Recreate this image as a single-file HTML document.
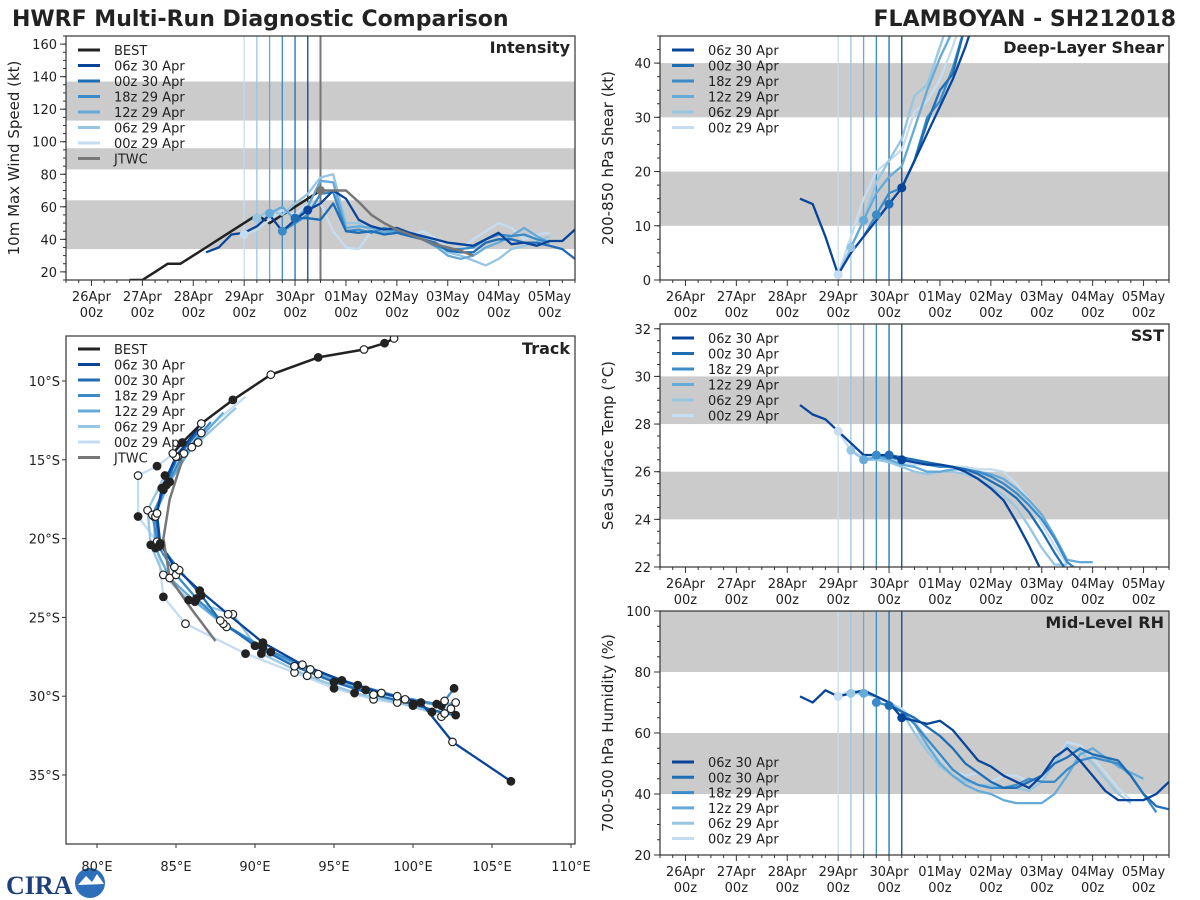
<!DOCTYPE html>
<html><head><meta charset="utf-8">
<style>
html,body{margin:0;padding:0;background:#fff;}
svg{display:block;font-family:"DejaVu Sans","Liberation Sans",sans-serif;}
</style></head>
<body>
<svg id="chart" width="1200" height="900" viewBox="0 0 1200 900" xmlns="http://www.w3.org/2000/svg">
<text x="12" y="26" font-size="22" font-weight="bold" fill="#222">HWRF Multi-Run Diagnostic Comparison</text>
<text x="1176" y="26" font-size="22" font-weight="bold" fill="#222" text-anchor="end">FLAMBOYAN - SH212018</text>
<g>
<text x="6" y="894" font-size="26" font-weight="bold" fill="#1d3f7a" font-family="Liberation Serif, serif">CIRA</text>
<circle cx="90" cy="883" r="15" fill="#2d6fb8"/>
<path d="M78 885 L86 876 L92 882 L97 874 L104 884 Z" fill="#fff"/>
</g>
</svg>
<script>
// ---------- data ----------
const runNames = ["06z 30 Apr","00z 30 Apr","18z 29 Apr","12z 29 Apr","06z 29 Apr","00z 29 Apr"];
const runColors = ["#08459a","#1f6db5","#3a8bc8","#66aad8","#97c6e3","#c6dcf0"];
const initHours = [102,96,90,84,78,72];
const jtwcHour = 108;
const dateLabels = ["26Apr","27Apr","28Apr","29Apr","30Apr","01May","02May","03May","04May","05May"];

// intensity (kt), hour step 6
const bestStart = 18;
const bestWind = [15,15,20,25,25,30,35,40,45,50,55,50,55,60,65,70];
const jtwcStart = 108;
const jtwcWind = [70,70,70,63,55,50,46,43,40,37,35,33,30];
const windStarts = [54,96,90,84,78,72];
const windVals = [
 [32,35,43,44,48,55,45,52,58,62,70,65,52,48,46,47,44,42,40,38,37,36,40,44,37,38,36,39,39,46,37],
 [53,53,52,62,45,44,45,43,44,42,40,38,33,32,32,38,40,40,38,38,36,34,28],
 [45,50,55,68,69,45,46,44,47,45,43,40,36,34,34,35,40,43,42,43,40,38],
 [56,60,52,60,76,75,47,48,47,44,46,44,41,36,30,28,30,35,38,42,47,42,38],
 [53,58,55,62,68,78,80,50,50,45,47,44,44,42,38,32,30,27,24,28,34,36,38,42],
 [43,46,52,58,55,62,62,45,35,34,45,44,46,42,45,41,35,34,40,45,50,47,40,43,44]
];
// shear (kt)
const shearStarts = [54,90,84,78,72,72];
const shearVals = [
 [15,14,8,1,5,8,11,14,17,22,27,32,37,43,50],
 [11,14,17,22,29,35,38,47],
 [8,12,16,17,22,30,33,39,47],
 [6,11,16,19,21,28,35,41,46,52],
 [1,6,11,18,22,26,34,36,43,50],
 [1,8,15,20,22,24,31,33,37,43,50]
];
// SST (C)
const sstStarts = [54,96,90,84,78,72];
const sstVals = [
 [28.8,28.4,28.2,27.7,27.2,26.7,26.7,26.7,26.5,26.4,26.3,26.3,26.2,26.0,25.7,25.3,24.8,23.9,22.9,21.8],
 [26.7,26.6,26.5,26.4,26.3,26.2,26.1,25.9,25.6,25.3,24.9,24.3,23.5,22.6,21.8],
 [26.7,26.6,26.5,26.4,26.3,26.2,26.2,26.1,26.0,25.8,25.5,25.1,24.6,24.0,23.2,22.2,21.8],
 [26.5,26.6,26.5,26.3,26.2,26.0,26.0,26.1,26.1,26.0,25.9,25.7,25.3,24.8,24.2,23.3,22.3,22.2,22.2],
 [26.9,26.5,26.5,26.4,26.2,26.0,25.9,26.0,26.0,25.9,25.7,25.4,25.0,24.5,23.7,22.8,22.1,22.1],
 [27.7,26.9,26.6,26.6,26.5,26.4,26.3,26.3,26.3,26.2,26.2,26.1,26.1,26.0,25.5,24.8,23.8,22.9,22.1]
];
// RH (%)
const rhStarts = [54,96,90,84,78,72];
const rhVals = [
 [72,70,74,72,73,74,72,70,65,64,63,64,61,56,51,49,46,44,42,46,52,55,51,46,41,38,38,38,40,44],
 [69,67,65,62,59,55,50,47,44,42,42,44,46,50,52,55,53,52,51,46,40,36,35,35],
 [70,69,67,63,58,53,48,45,43,42,42,43,45,44,44,48,51,52,51,50,46,40,34],
 [73,72,70,67,63,56,50,46,43,41,40,38,37,37,37,40,46,53,55,52,49,47,45],
 [73,73,72,70,67,60,54,49,46,44,43,43,42,42,41,44,50,56,54,50,45,40,37],
 [72,74,73,72,70,68,64,58,52,48,46,47,44,46,46,44,45,51,57,56,52,47,42,38]
];
// tracks (lon E, lat S as negative), 12h steps
const bestLon = [98.8,98.2,96.9,94.0,91.0,88.6,86.6,85.4,84.8];
const bestLat = [-7.3,-7.6,-8.0,-8.5,-9.6,-11.2,-12.7,-13.9,-14.6];
const trackLon = [
 [86.4,85.0,84.1,83.8,84.0,84.9,86.5,88.3,90.5,93.0,95.5,98.0,100.5,102.5,106.2],
 [86.6,85.1,84.2,83.7,84.0,85.2,86.6,87.8,90.0,92.5,95.0,97.5,100.0,102.0,102.7],
 [87.2,85.5,84.4,83.5,83.9,85.0,86.3,88.0,90.5,93.5,96.5,99.0,101.5,102.0,102.6],
 [88.0,86.0,84.6,83.6,83.7,84.6,86.2,88.2,91.0,94.0,97.0,99.5,101.8,102.7],
 [88.8,86.4,84.3,83.2,83.4,84.2,85.8,88.6,90.4,93.3,96.3,99.0,101.2,102.4],
 [89.4,86.6,83.8,82.6,82.6,83.8,84.2,85.6,89.4,92.5,95.0,97.5,100.0,101.8]
];
const trackLat = [
 [-13.0,-14.8,-16.8,-18.4,-20.3,-21.8,-23.3,-24.8,-26.6,-28.0,-29.0,-29.8,-30.4,-32.9,-35.4],
 [-13.0,-14.8,-16.9,-18.6,-20.4,-22.0,-23.6,-25.2,-26.8,-28.1,-29.1,-29.9,-30.5,-31.1,-31.2],
 [-12.6,-14.6,-16.6,-18.5,-20.5,-22.3,-23.8,-25.4,-26.9,-28.3,-29.3,-30.0,-30.5,-30.3,-29.5],
 [-12.0,-14.2,-16.4,-18.6,-20.6,-22.5,-24.0,-25.6,-27.2,-28.6,-29.6,-30.2,-30.6,-30.4],
 [-11.7,-13.9,-16.0,-18.2,-20.4,-22.3,-23.9,-24.8,-27.3,-28.7,-29.8,-30.4,-31.0,-30.8],
 [-11.0,-13.3,-15.4,-16.0,-18.6,-20.2,-23.7,-25.4,-27.3,-28.5,-29.5,-30.2,-30.6,-31.3]
];
const jtwcLon = [85.4,84.6,84.2,84.6,86.0,87.5];
const jtwcLat = [-15.0,-17.5,-20.0,-22.5,-24.5,-26.5];

// ---------- helpers ----------
const NS="http://www.w3.org/2000/svg";
const svg=document.getElementById('chart');
function el(tag,attrs,parent){const e=document.createElementNS(NS,tag);for(const k in attrs)e.setAttribute(k,attrs[k]);(parent||svg).appendChild(e);return e;}
const HMIN=-12,HMAX=228;

function timePanel(name,px,py,pw,ph,ymin,ymax,yticks,bands,ylabel,title){
  const g=el('g',{});
  
  
  const X=h=>px+(h-HMIN)/(HMAX-HMIN)*pw;
  const Y=v=>py+ph-(v-ymin)/(ymax-ymin)*ph;
  const clip=el('clipPath',{id:'c'+name},g);el('rect',{x:px,y:py,width:pw,height:ph},clip);
  const pg=el('g',{'clip-path':'url(#c'+name+')'},g);
  bands.forEach(b=>{const r=el('rect',{x:px,y:Y(b[1]),width:pw,height:Y(b[0])-Y(b[1]),fill:'#cbcbcb'},pg);
    });
  for(let h=-12;h<=228;h+=6){const major=(h%24===0);el('line',{x1:X(h),x2:X(h),y1:py+ph,y2:py+ph+(major?6:3),stroke:'#333','stroke-width':1},g);}
  dateLabels.forEach((d,i)=>{const t=el('text',{x:X(i*24),y:py+ph+21,'font-size':13,'text-anchor':'middle',fill:'#222'},g);t.textContent=d;
    
    const t2=el('text',{x:X(i*24),y:py+ph+37,'font-size':13,'text-anchor':'middle',fill:'#222'},g);t2.textContent='00z';});
  const step=yticks[1]-yticks[0];
  for(let v=ymin;v<=ymax+1e-6;v+=step/4){el('line',{x1:px-3,x2:px,y1:Y(v),y2:Y(v),stroke:'#333'},g);}
  yticks.forEach(v=>{el('line',{x1:px-6,x2:px,y1:Y(v),y2:Y(v),stroke:'#333'},g);
    const t=el('text',{x:px-9,y:Y(v)+5,'font-size':13,'text-anchor':'end',fill:'#222'},g);t.textContent=v;
    });
  const yl=el('text',{transform:`translate(${px-47},${py+ph/2}) rotate(-90)`,'font-size':15,'text-anchor':'middle',fill:'#222'},g);yl.textContent=ylabel;
  
  initHours.forEach((h,i)=>{const l=el('line',{x1:X(h),x2:X(h),y1:py,y2:py+ph,stroke:runColors[i],'stroke-width':1.3},pg);
    });
  const tt=el('text',{x:px+pw-5,y:py+17,'font-size':16,'font-weight':'bold','text-anchor':'end',fill:'#222'},g);tt.textContent=title;
  
  return {g,pg,X,Y,px,py,pw,ph};
}
function series(P,start,vals,color,w,name){
  const pts=vals.map((v,i)=>P.X(start+6*i).toFixed(1)+','+P.Y(v).toFixed(1)).join(' ');
  const l=el('polyline',{points:pts,fill:'none',stroke:color,'stroke-width':w,'stroke-linejoin':'round'},P.pg);
  
  
}
function dot(P,h,v,color){const c=el('circle',{cx:P.X(h),cy:P.Y(v),r:4.5,fill:color},P.pg);
  
  }
function valAt(start,vals,h){const i=Math.round((h-start)/6);return vals[Math.max(0,Math.min(vals.length-1,i))];}
function frame(P){el('rect',{x:P.px,y:P.py,width:P.pw,height:P.ph,fill:'none',stroke:'#333','stroke-width':1.2},P.g);}
function legend(P,x,y,items,sp){
  items.forEach((it,i)=>{const yy=y+i*sp;
    const l=el('line',{x1:x,x2:x+22,y1:yy,y2:yy,stroke:it[1],'stroke-width':3},P.g);
    
    const t=el('text',{x:x+36,y:yy+5,'font-size':13,fill:'#222'},P.g);t.textContent=it[0];
    });
}
const runItems=runNames.map((n,i)=>[n,runColors[i]]);

// ---------- intensity ----------
const PI=timePanel('intensity-panel',66,36,509,244,15,165,[20,40,60,80,100,120,140,160],[[34,64],[83,96],[113,137]],'10m Max Wind Speed (kt)','Intensity');
{const l=el('line',{x1:PI.X(jtwcHour),x2:PI.X(jtwcHour),y1:PI.py,y2:PI.py+PI.ph,stroke:'#777','stroke-width':2},PI.pg);
 }
series(PI,bestStart,bestWind,'#222',2.5,'best-intensity-line');
for(let i=5;i>=0;i--){series(PI,windStarts[i],windVals[i],runColors[i],2.3,'intensity-run-'+i);}
series(PI,jtwcStart,jtwcWind,'#777',2.5,'jtwc-intensity-line');
for(let i=5;i>=0;i--)dot(PI,initHours[i],valAt(windStarts[i],windVals[i],initHours[i]),runColors[i]);
dot(PI,jtwcStart,jtwcWind[0],'#777');
frame(PI);
legend(PI,78,50,[['BEST','#222']].concat(runItems,[['JTWC','#777']]),15.5);

// ---------- shear ----------
const PS=timePanel('shear-panel',660,36,509,244,0,45,[0,10,20,30,40],[[10,20],[30,40]],'200-850 hPa Shear (kt)','Deep-Layer Shear');
for(let i=5;i>=0;i--)series(PS,shearStarts[i],shearVals[i],runColors[i],2.3,'shear-run-'+i);
for(let i=5;i>=0;i--)dot(PS,initHours[i],valAt(shearStarts[i],shearVals[i],initHours[i]),runColors[i]);
frame(PS);legend(PS,672,50,runItems,15.5);

// ---------- SST ----------
const PT=timePanel('sst-panel',660,324,509,243,22,32.2,[22,24,26,28,30,32],[[24,26],[28,30]],'Sea Surface Temp (°C)','SST');
for(let i=5;i>=0;i--)series(PT,sstStarts[i],sstVals[i],runColors[i],2.3,'sst-run-'+i);
for(let i=5;i>=0;i--)dot(PT,initHours[i],valAt(sstStarts[i],sstVals[i],initHours[i]),runColors[i]);
frame(PT);legend(PT,672,338,runItems,15.5);

// ---------- RH ----------
const PR=timePanel('rh-panel',660,611,509,244,20,100,[20,40,60,80,100],[[40,60],[80,100]],'700-500 hPa Humidity (%)','Mid-Level RH');
for(let i=5;i>=0;i--)series(PR,rhStarts[i],rhVals[i],runColors[i],2.3,'rh-run-'+i);
for(let i=5;i>=0;i--)dot(PR,initHours[i],valAt(rhStarts[i],rhVals[i],initHours[i]),runColors[i]);
frame(PR);legend(PR,672,762,runItems,15.3);

// ---------- track ----------
const TX=66,TY=336,TW=509,TH=508;
const tg=el('g',{});


const LX=lon=>97+(lon-80)/5*79;
const LY=lat=>381+(-10-lat)/5*78.8;
const tclip=el('clipPath',{id:'ctrack'},tg);el('rect',{x:TX,y:TY,width:TW,height:TH},tclip);
const tp=el('g',{'clip-path':'url(#ctrack)'},tg);
[80,85,90,95,100,105,110].forEach(v=>{el('line',{x1:LX(v),x2:LX(v),y1:TY+TH,y2:TY+TH+4,stroke:'#333'},tg);
  const t=el('text',{x:LX(v),y:TY+TH+27,'font-size':13,'text-anchor':'middle',fill:'#222'},tg);t.textContent=v+'°E';
  });
[10,15,20,25,30,35].forEach(v=>{el('line',{x1:TX-4,x2:TX,y1:LY(-v),y2:LY(-v),stroke:'#333'},tg);
  const t=el('text',{x:TX-6,y:LY(-v)+5,'font-size':13,'text-anchor':'end',fill:'#222'},tg);t.textContent=v+'°S';
  });
function track(lons,lats,color,w,name,marks){
  const pts=lons.map((v,i)=>LX(v).toFixed(1)+','+LY(lats[i]).toFixed(1)).join(' ');
  const l=el('polyline',{points:pts,fill:'none',stroke:color,'stroke-width':w,'stroke-linejoin':'round'},tp);
  
  
  if(marks)lons.forEach((v,i)=>{if(i===0)return;const c=el('circle',{cx:LX(v),cy:LY(lats[i]),r:3.8,fill:(i%2? '#fff':'#222'),stroke:'#222','stroke-width':1.2},tp);
    
    });
}
for(let i=5;i>=0;i--)track(trackLon[i],trackLat[i],runColors[i],2.3,'track-run-'+i,false);
track(jtwcLon,jtwcLat,'#777',2.5,'jtwc-track',false);
track(bestLon,bestLat,'#222',2.5,'best-track',false);
for(let i=5;i>=0;i--)track(trackLon[i],trackLat[i],'none',0,'track-markers-'+i,true);
bestLon.forEach((v,i)=>{const c=el('circle',{cx:LX(v),cy:LY(bestLat[i]),r:3.8,fill:(i%2?'#222':'#fff'),stroke:'#222','stroke-width':1.2},tp);
  
  });
el('rect',{x:TX,y:TY,width:TW,height:TH,fill:'none',stroke:'#333','stroke-width':1.2},tg);
{const t=el('text',{x:TX+TW-5,y:TY+18,'font-size':16,'font-weight':'bold','text-anchor':'end',fill:'#222'},tg);t.textContent='Track';
 }
legend({g:tg},78,349,[['BEST','#222']].concat(runItems,[['JTWC','#777']]),15.5);
</script>
</body></html>
